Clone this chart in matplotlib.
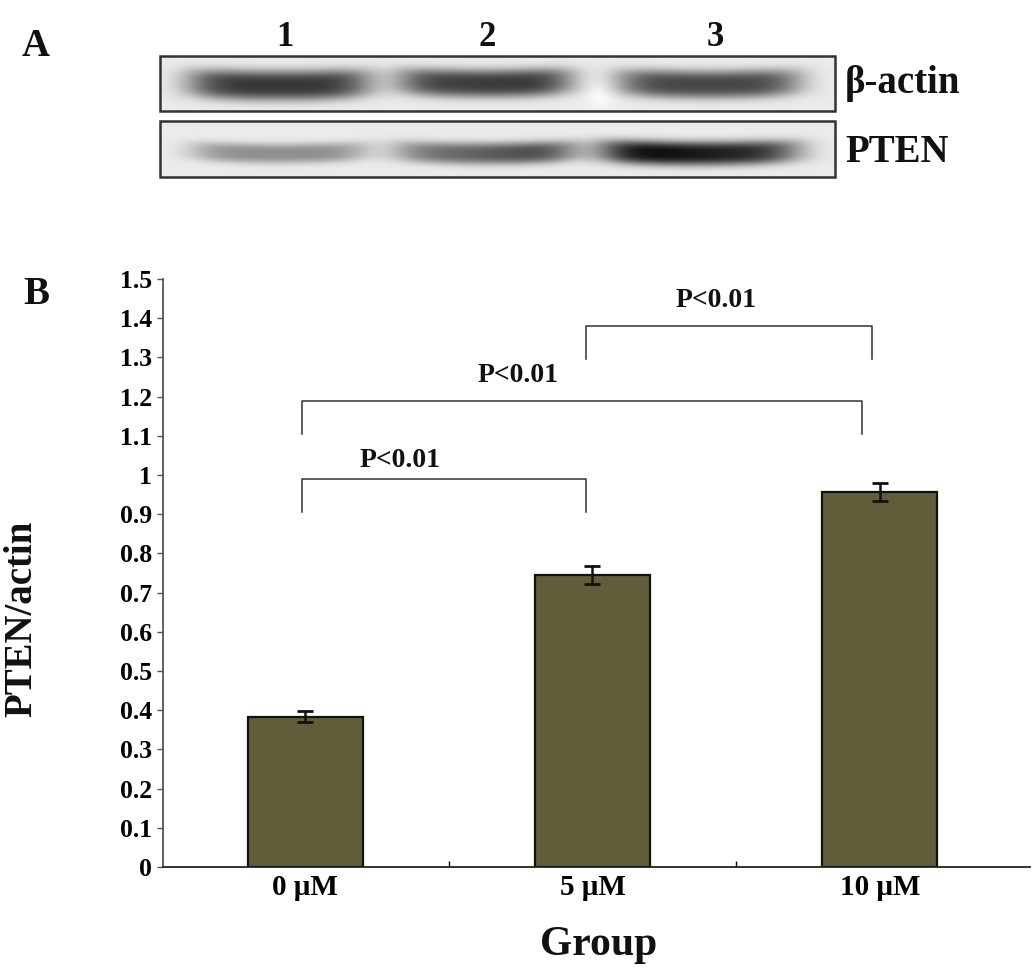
import numpy as np
import matplotlib
matplotlib.use("Agg")
import matplotlib.pyplot as plt
from matplotlib.patches import Rectangle

# ---------------- data ----------------
groups = ["0 μM", "5 μM", "10 μM"]
ratio_values = [0.383, 0.745, 0.957]
ratio_errors = [0.014, 0.022, 0.023]
y_ticks = [0, 0.1, 0.2, 0.3, 0.4, 0.5, 0.6, 0.7, 0.8, 0.9, 1.0, 1.1, 1.2, 1.3, 1.4, 1.5]
y_tick_labels = ["0", "0.1", "0.2", "0.3", "0.4", "0.5", "0.6", "0.7", "0.8", "0.9",
                 "1", "1.1", "1.2", "1.3", "1.4", "1.5"]
# significance brackets: (left group, right group, bracket height, label)
sig_pairs = [(0, 1, 0.99, "P<0.01"), (0, 2, 1.19, "P<0.01"), (1, 2, 1.38, "P<0.01")]
lane_labels = ["1", "2", "3"]
blot_rows = ["β-actin", "PTEN"]
# relative band densities read from the blot (per lane)
actin_density = [0.70, 0.68, 0.64]
pten_density = [0.36, 0.55, 0.82]

FONT = "Liberation Serif"
W, H = 1033, 975
fig = plt.figure(figsize=(W / 100, H / 100), dpi=100)

# ---------------- panel A (pixel coordinates) ----------------
axA = fig.add_axes([0, 0, 1, 1])
axA.set_xlim(0, W)
axA.set_ylim(H, 0)
axA.axis("off")

def band_image(x0, x1, y0, y1, bands, bg=0.92, spot=None):
    xs = np.arange(x0, x1)
    ys = np.arange(y0, y1)
    X, Y = np.meshgrid(xs, ys)
    dark = np.zeros_like(X, dtype=float)
    for (cx, hw, cy, sy, dens, skew) in bands:
        u = (X - cx) / hw
        prof_x = np.exp(-np.abs(u) ** 5)
        prof_x = prof_x * (1 + skew * u)
        # band bends slightly downward at its middle (smile shape)
        cyy = cy + 3 * (1 - np.clip(u ** 2, 0, 1))
        prof_y = np.exp(-np.abs((Y - cyy) / sy) ** 3)
        dark += dens * prof_x * prof_y
    img = bg - np.clip(dark, 0, 0.85)
    if spot is not None:
        sx, sy_, r = spot
        img = img + 0.08 * np.exp(-(((X - sx) / r) ** 2 + ((Y - sy_) / (r * 0.9)) ** 2))
    return np.clip(img, 0, 1)

bx0, bx1 = 160, 835
# actin strip
top0, top1 = 56, 111
actin_bands = [(279, 92, 82, 15, actin_density[0], 0.0),
               (484, 88, 80, 14, actin_density[1], 0.05),
               (708, 92, 81, 14, actin_density[2], 0.0)]
img1 = band_image(bx0, bx1, top0, top1, actin_bands, spot=(600, 92, 16))
axA.imshow(img1, cmap="gray", vmin=0, vmax=1, extent=(bx0, bx1, top1, top0),
           aspect="auto", interpolation="bilinear", zorder=1)
# PTEN strip
bot0, bot1 = 121, 177
pten_bands = [(279, 88, 150, 10, pten_density[0], 0.0),
              (483, 92, 150, 11, pten_density[1], 0.25),
              (700, 100, 150, 12, pten_density[2], -0.15)]
img2 = band_image(bx0, bx1, bot0, bot1, pten_bands)
axA.imshow(img2, cmap="gray", vmin=0, vmax=1, extent=(bx0, bx1, bot1, bot0),
           aspect="auto", interpolation="bilinear", zorder=1)
for (a, b) in [(top0, top1), (bot0, bot1)]:
    axA.add_patch(Rectangle((bx0, a), bx1 - bx0, b - a, fill=False,
                            edgecolor="#333333", lw=1.8, zorder=3))

for lx, lab in zip([285, 487, 715], lane_labels):
    axA.text(lx, 37, lab, ha="center", va="center", fontsize=25,
             fontweight="bold", family=FONT, color="#111111")
axA.text(845, 84, blot_rows[0], ha="left", va="center", fontsize=28,
         fontweight="bold", family=FONT, color="#111111")
axA.text(845, 152, blot_rows[1], ha="left", va="center", fontsize=28,
         fontweight="bold", family=FONT, color="#111111")
axA.text(36, 46, "A", ha="center", va="center", fontsize=28,
         fontweight="bold", family=FONT, color="#111111")
axA.text(36, 294, "B", ha="center", va="center", fontsize=28,
         fontweight="bold", family=FONT, color="#111111")

# ---------------- panel B ----------------
left, right = 163 / W, 1030 / W
bottom, top = 1 - 867 / H, 1 - 279 / H
ax = fig.add_axes([left, bottom, right - left, top - bottom])
ax.patch.set_alpha(0)
x = np.arange(len(groups))
ax.bar(x, ratio_values, width=0.4, color="#615D3B", edgecolor="#111111",
       linewidth=1.6, zorder=2)
ax.errorbar(x, ratio_values, yerr=ratio_errors, fmt="none", ecolor="#111111",
            elinewidth=1.8, capsize=5.5, capthick=2.0, zorder=3)

ax.set_xlim(-0.494, 2.522)
ax.set_ylim(0, 1.5)
ax.set_yticks(y_ticks)
ax.set_yticklabels(y_tick_labels, fontsize=18.5, fontweight="bold", family=FONT)
ax.set_xticks(x)
ax.set_xticklabels(groups, fontsize=21, fontweight="bold", family=FONT)
ax.set_xticks([0.5, 1.5], minor=True)
ax.tick_params(axis="x", which="major", length=0, pad=5)
ax.tick_params(axis="x", which="minor", length=4, direction="in", width=1)
ax.tick_params(axis="y", which="major", length=4, width=1, pad=4, color="#555555")
for s in ["top", "right"]:
    ax.spines[s].set_visible(False)
ax.spines["left"].set_color("#555555")
ax.spines["left"].set_linewidth(1.3)
ax.spines["bottom"].set_color("#222222")
ax.spines["bottom"].set_linewidth(1.3)

# significance brackets
xl_off = -0.01
for (i, j, h, lab) in sig_pairs:
    xa = i + xl_off
    xb = j - 0.023 - (0.04 if (i == 0 and j == 2) else 0.0)
    if i == 1:
        xa = i - 0.023
        xb = j - 0.028
    ax.plot([xa, xa, xb, xb], [h - 0.085, h, h, h - 0.085], color="#333333",
            lw=1.1, zorder=2, clip_on=False)
label_pos = [(0.33, 1.038), (0.74, 1.255), (1.43, 1.446)]
for (px, py), (_, _, _, lab) in zip(label_pos, sig_pairs):
    ax.text(px, py, lab, ha="center", va="center", fontsize=20,
            fontweight="bold", family=FONT, color="#111111")

fig.text(22 / W, 1 - 619 / H, "PTEN/actin", rotation=90, ha="center", va="center",
         fontsize=28, fontweight="bold", family=FONT, color="#111111")
fig.text(599 / W, 1 - 945 / H, "Group", ha="center", va="center",
         fontsize=30, fontweight="bold", family=FONT, color="#111111")

fig.savefig("out.png", dpi=100, facecolor="white")
